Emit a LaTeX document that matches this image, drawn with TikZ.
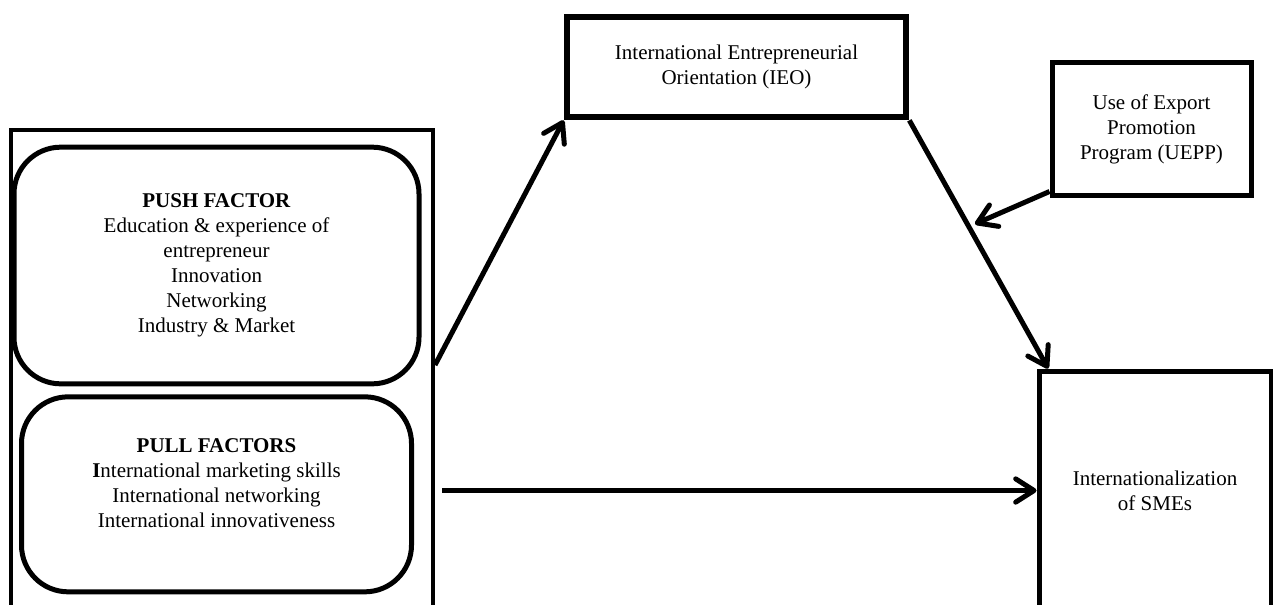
\documentclass[tikz,border=0pt]{standalone}
\usepackage{fontspec}
\setmainfont{Liberation Serif}
\usetikzlibrary{positioning,arrows.meta}

\tikzset{
  outerbox/.style={draw, line width=2.4pt, inner sep=0pt},
  factor/.style={draw, rounded corners=28pt, line width=3pt, align=center, inner sep=0pt},
  plainbox/.style={draw, line width=3pt, align=center, inner sep=0pt},
  arr/.style={-{Straight Barb[length=11pt,width=14pt,line join=round,line cap=round]}, line width=3pt}
}

\begin{document}
\begin{tikzpicture}[x=0.6pt,y=-0.6pt,font=\fontsize{12.6}{15}\selectfont]
  \useasboundingbox (0,0) rectangle (1273,604);

  \node[outerbox, minimum width=253.2pt, minimum height=294pt] (factors) at (222,375) {};
  \node[factor, minimum width=243pt, minimum height=142pt] (push) at (216.5,265.5)
    {\textbf{PUSH FACTOR}\\Education \& experience of\\entrepreneur\\Innovation\\Networking\\Industry \& Market};
  \node[factor, minimum width=234pt, minimum height=117pt, below=4.8pt of push] (pull) {};
  \node[align=center] (pulltext) at ([yshift=7pt]pull.center)
    {\textbf{PULL FACTORS}\\\textbf{I}nternational marketing skills\\International networking\\International innovativeness};

  \node[plainbox, line width=4pt, minimum width=203.4pt, minimum height=60pt] (ieo) at (736.5,67)
    {International Entrepreneurial\\Orientation (IEO)};
  \node[plainbox, minimum width=119.4pt, minimum height=80pt] (uepp) at (1151.5,129)
    {Use of Export\\Promotion\\Program (UEPP)};
  \node[plainbox, minimum width=139.2pt, minimum height=143.4pt] (smes) at (1155,490.5)
    {Internationalization\\of SMEs};
  \coordinate (uepptip) at (975,224);

  \draw[arr] (factors.east) ++(0,-10) -- (ieo.south west);
  \draw[arr] (ieo.south east) -- ([xshift=7pt]smes.north west);
  \draw[arr] ([yshift=4pt]uepp.south west) -- (uepptip);
  \draw[arr] (factors.east |- smes.west) ++(7,0) -- (smes.west);
\end{tikzpicture}
\end{document}
